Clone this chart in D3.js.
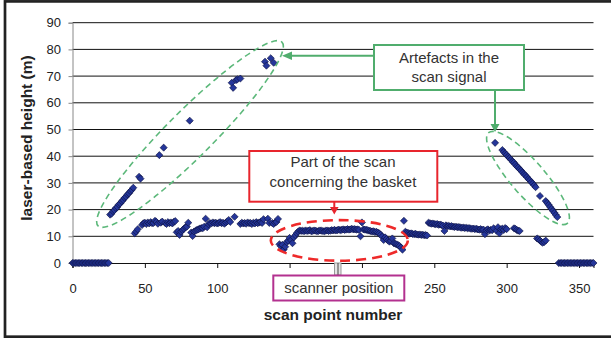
<html>
    <head>
        <style>
            body { margin: 0; background: white; }
            text { font-family: "Liberation Sans", Arial, sans-serif; }
        </style>
    </head>
    <body>
        <svg id="chart" width="611" height="338"></svg>

        <script src="https://d3js.org/d3.v7.min.js"></script>
        <script>
            // tick values (150 and 200 are hidden behind the scanner box in the original)
            var xTicks = [0, 50, 100, 150, 200, 250, 300, 350];
            var xHiddenLabels = [150, 200];
            var yTicks = [0, 10, 20, 30, 40, 50, 60, 70, 80, 90];

            // scan data: [scan point number, laser-based height (m)]
            var groundLeft = [[0,0],[1,0],[2,0],[3,0],[4,0],[5,0],[6,0],[7,0],[8,0],[9,0],[10,0],[11,0],[12,0],
                [13,0],[14,0],[15,0],[16,0],[17,0],[18,0],[19,0],[20,0],[21,0],[22,0],[23,0],[24,0],[25,0]];

            var artefactLeft = [[26,18.1],[27,18.5],[28,19.4],[29,19.8],[30,20.6],[31,21.0],[32,21.9],[33,22.3],
                [34,23.1],[35,23.6],[36,24.4],[37,24.8],[38,25.7],[39,26.1],[40,26.9],[41,27.4],[42,28.2],
                [46,32.3],[47,31.6],[60,40.4],[63,43.2],[81,53.3],[110,67.5],[111,65.6],[113,68.5],[114,68.8],
                [116,69.1],[133,75.4],[134,73.9],[137,76.7],[139,75.0]];

            var objectsLeft = [[43,11.1],[44,11.8],[45,12.6],[48,14.2],[49,14.9],[50,15.1],[51,14.6],[52,15.2],
                [53,14.8],[54,15.3],[55,14.9],[56,15.0],[57,15.8],[58,15.4],[59,14.7],[61,15.1],[62,15.5],
                [64,15.0],[65,14.6],[66,15.3],[67,14.9],[68,15.2],[69,14.8],[70,15.4],[71,15.7],[72,11.5],
                [73,12.0],[74,10.5],[75,11.7],[76,12.3],[77,12.8],[78,13.4],[79,13.6],[80,15.1],[82,11.4],
                [83,10.1],[84,11.8],[85,12.1],[86,12.4],[87,12.6],[88,12.9],[89,13.1],[90,13.0],[91,13.6],
                [92,16.6],[93,13.4],[94,14.5],[95,15.0],[96,14.8],[97,15.2],[98,14.9],[99,15.1],[100,14.8],
                [101,15.0],[102,15.3],[103,14.9],[104,15.1],[105,14.7],[106,15.2],[107,15.6],[108,16.1],
                [109,15.4],[112,17.3],[116,14.6],[117,15.1],[118,14.8],[119,15.0],[120,14.7],[121,15.2],
                [122,14.9],[123,15.0],[124,14.6],[125,15.1],[126,14.8],[127,15.3],[128,14.9],[129,15.2],
                [130,15.4],[131,15.0],[132,16.4],[135,16.6],[136,15.0],[138,15.0],[139,14.6],[140,15.2],
                [141,15.4],[142,16.5]];

            var basket = [[143,7.0],[144,6.3],[145,6.8],[146,5.1],[147,6.1],[148,7.8],[149,8.3],[150,9.4],
                [151,8.6],[152,7.4],[153,9.6],[154,10.4],[155,11.2],[156,11.8],[157,12.2],[158,12.0],[159,12.1],
                [160,11.9],[161,12.2],[162,12.0],[163,12.1],[164,12.3],[165,11.9],[166,12.0],[167,12.2],
                [168,12.1],[169,11.9],[170,12.0],[171,12.2],[172,12.1],[173,12.0],[174,11.9],[175,12.1],
                [176,12.2],[177,12.0],[178,12.1],[179,12.3],[180,12.2],[181,12.4],[182,12.2],[183,12.3],
                [184,12.5],[185,12.3],[186,12.4],[187,12.6],[188,12.4],[189,12.5],[190,12.7],[191,12.5],
                [192,12.6],[193,12.8],[194,12.6],[195,12.7],[196,12.5],[197,12.6],[198,12.4],[199,10.0],
                [200,15.2],[201,12.6],[202,12.5],[203,12.4],[204,12.3],[205,12.1],[206,12.0],[207,11.8],
                [208,11.9],[209,11.6],[210,11.7],[211,11.4],[212,11.1],[213,10.6],[214,9.9],[215,8.6],
                [216,9.6],[217,9.0],[218,8.4],[219,8.0],[220,8.3],[221,9.2],[222,7.4],[223,7.2],[224,7.0],
                [225,6.7],[226,6.4],[227,5.8],[228,5.0]];

            var objectsRight = [[229,15.8],[230,11.7],[231,11.4],[232,11.2],[233,11.0],[234,11.1],[235,10.9],
                [236,10.8],[237,10.9],[238,10.7],[239,10.6],[240,10.7],[241,10.5],[242,10.6],[243,10.4],
                [244,10.5],[245,10.3],[246,15.1],[247,14.9],[248,14.7],[249,14.8],[250,14.6],[251,14.5],
                [252,14.6],[253,14.3],[254,14.4],[255,14.2],[256,14.0],[257,12.0],[258,14.1],[259,13.8],
                [260,13.9],[261,13.7],[262,13.8],[263,13.6],[264,13.5],[265,13.6],[266,13.4],[267,13.5],
                [268,13.3],[269,13.2],[270,13.3],[271,13.1],[272,13.2],[273,13.0],[274,13.1],[275,12.9],
                [276,12.8],[277,12.9],[278,12.7],[279,12.8],[280,12.6],[281,12.5],[282,12.7],[283,12.4],
                [284,12.5],[285,10.8],[286,12.3],[287,12.6],[288,12.2],[289,12.4],[290,12.3],[291,13.0],
                [293,12.1],[294,13.4],[295,11.1],[296,12.6],[297,12.9],[298,12.4],[299,13.1],[300,12.7],
                [305,13.0],[306,12.8],[307,12.4],[308,12.1],[309,12.0],[321,9.2],[322,8.9],[323,8.4],
                [324,7.9],[325,7.6],[326,7.9],[327,8.4]];

            var artefactRight = [[292,45.0],[297,42.3],[298,41.6],[299,41.0],[300,40.5],[301,39.8],[302,39.3],
                [303,38.7],[304,38.0],[305,37.6],[306,36.9],[307,36.2],[308,35.8],[309,35.1],[310,34.6],
                [311,33.9],[312,33.3],[313,32.8],[314,32.2],[315,31.5],[316,31.0],[317,30.3],[318,29.8],
                [319,29.1],[320,28.4],[323,25.1],[327,23.2],[328,22.5],[329,21.8],[330,21.0],[331,20.3],
                [332,19.5],[333,18.8],[334,18.0],[335,17.2]];

            var groundRight = [[336,0],[337,0],[338,0],[339,0],[340,0],[341,0],[342,0],[343,0],[344,0],[345,0],
                [346,0],[347,0],[348,0],[349,0],[350,0],[351,0],[352,0],[353,0],[354,0],[355,0],[356,0],
                [357,0],[358,0],[359,0],[360,0]];

            var allPoints = [].concat(groundLeft, artefactLeft, objectsLeft, basket,
                                      objectsRight, artefactRight, groundRight);

            var svg = d3.select("#chart");

            var x = d3.scaleLinear().domain([0, 360]).range([72.5, 593.5]);
            var y = d3.scaleLinear().domain([0, 90]).range([263, 22.7]);

            // outer frame
            svg.append("rect")
                .attr("x", 5).attr("y", 1.4)
                .attr("width", 640).attr("height", 335.3)
                .attr("fill", "none")
                .attr("stroke", "#222")
                .attr("stroke-width", 2.7);

            // gridlines
            svg.append("g")
                .selectAll("line")
                .data(yTicks.filter(function(d){ return d > 0; }))
                .enter()
                .append("line")
                .attr("x1", x(0)).attr("x2", x(360))
                .attr("y1", function(d){ return y(d); })
                .attr("y2", function(d){ return y(d); })
                .attr("stroke", "#111")
                .attr("stroke-width", 1);

            // y axis
            var yAxis = svg.append("g")
                .attr("transform", "translate(" + x(0) + ",0)")
                .call(d3.axisLeft(y).tickValues(yTicks).tickSize(4).tickPadding(7.5));
            yAxis.select(".domain").attr("stroke", "#888");
            yAxis.selectAll(".tick line").attr("stroke", "#888");
            yAxis.selectAll("text")
                .attr("font-size", 13).attr("fill", "#222")
                .style("font-family", "'Liberation Sans', Arial, sans-serif");

            // x axis
            var xAxis = svg.append("g")
                .attr("transform", "translate(0," + y(0) + ")")
                .call(d3.axisBottom(x).tickValues(xTicks).tickSize(5).tickPadding(16)
                    .tickFormat(function(d){ return xHiddenLabels.indexOf(d) >= 0 ? "" : d; }));
            xAxis.select(".domain").attr("stroke", "#111");
            xAxis.selectAll(".tick line").attr("stroke", "#111");
            xAxis.selectAll("text")
                .attr("font-size", 13).attr("fill", "#222")
                .style("font-family", "'Liberation Sans', Arial, sans-serif");

            // axis titles
            svg.append("text")
                .attr("x", 333).attr("y", 320)
                .attr("text-anchor", "middle")
                .attr("font-size", 15.5).attr("font-weight", "bold").attr("fill", "#222")
                .text("scan point number");

            svg.append("text")
                .attr("transform", "translate(32,138) rotate(-90)")
                .attr("text-anchor", "middle")
                .attr("font-size", 15.5).attr("font-weight", "bold").attr("fill", "#222")
                .text("laser-based height (m)");

            // scan points
            var diamond = d3.symbol().type(d3.symbolSquare).size(25);
            svg.append("g")
                .selectAll("path")
                .data(allPoints)
                .enter()
                .append("path")
                .attr("d", diamond)
                .attr("transform", function(d){
                    return "translate(" + x(d[0]) + "," + y(d[1]) + ") rotate(45)";
                })
                .attr("fill", "#25369a")
                .attr("stroke", "#0b1040")
                .attr("stroke-width", 0.6);

            // annotations
            var green = "#50ad6d";
            var red = "#e8252d";
            var magenta = "#b3318f";

            svg.append("ellipse")
                .attr("transform", "translate(190,134) rotate(-45)")
                .attr("rx", 130).attr("ry", 23)
                .attr("fill", "none").attr("stroke", "#5cb87a")
                .attr("stroke-width", 1.6).attr("stroke-dasharray", "6,4");

            svg.append("ellipse")
                .attr("transform", "translate(528,178) rotate(49)")
                .attr("rx", 60).attr("ry", 17)
                .attr("fill", "none").attr("stroke", "#5cb87a")
                .attr("stroke-width", 1.6).attr("stroke-dasharray", "6,4");

            svg.append("ellipse")
                .attr("cx", 339.3).attr("cy", 240.4)
                .attr("rx", 68.5).attr("ry", 20.3)
                .attr("fill", "none").attr("stroke", "#ee2a2a")
                .attr("stroke-width", 2.6).attr("stroke-dasharray", "10,6");

            // green box + arrows
            svg.append("line")
                .attr("x1", 374).attr("y1", 55.7).attr("x2", 290).attr("y2", 55.7)
                .attr("stroke", green).attr("stroke-width", 2);
            svg.append("path")
                .attr("d", "M282,55.7 L292,51.5 L292,59.9 Z")
                .attr("fill", green);
            svg.append("line")
                .attr("x1", 495).attr("y1", 90).attr("x2", 495).attr("y2", 125)
                .attr("stroke", green).attr("stroke-width", 2);
            svg.append("path")
                .attr("d", "M495,132 L490.5,124 L499.5,124 Z")
                .attr("fill", green);
            svg.append("rect")
                .attr("x", 374).attr("y", 45).attr("width", 150).attr("height", 45)
                .attr("fill", "white").attr("stroke", green).attr("stroke-width", 2);
            svg.append("text")
                .attr("x", 449).attr("y", 62.5).attr("text-anchor", "middle")
                .attr("font-size", 15).attr("fill", "#333")
                .text("Artefacts in the");
            svg.append("text")
                .attr("x", 449).attr("y", 82).attr("text-anchor", "middle")
                .attr("font-size", 15).attr("fill", "#333")
                .text("scan signal");

            // red box + arrow
            svg.append("line")
                .attr("x1", 334.3).attr("y1", 202).attr("x2", 334.3).attr("y2", 208)
                .attr("stroke", red).attr("stroke-width", 2);
            svg.append("path")
                .attr("d", "M334.3,214.5 L330,207 L338.6,207 Z")
                .attr("fill", red);
            svg.append("rect")
                .attr("x", 249.3).attr("y", 151).attr("width", 188).attr("height", 50.7)
                .attr("fill", "white").attr("stroke", red).attr("stroke-width", 2);
            svg.append("text")
                .attr("x", 343).attr("y", 167).attr("text-anchor", "middle")
                .attr("font-size", 15).attr("fill", "#333")
                .text("Part of the scan");
            svg.append("text")
                .attr("x", 343).attr("y", 187).attr("text-anchor", "middle")
                .attr("font-size", 15).attr("fill", "#333")
                .text("concerning the basket");

            // scanner position marker + box
            svg.append("rect")
                .attr("x", 334.5).attr("y", y(0)).attr("width", 6.5).attr("height", 12)
                .attr("fill", "#e4e4e4").attr("stroke", "#999").attr("stroke-width", 1);
            svg.append("line")
                .attr("x1", 338).attr("x2", 338).attr("y1", y(0)).attr("y2", y(0) + 12)
                .attr("stroke", "#444").attr("stroke-width", 1);
            svg.append("rect")
                .attr("x", 273.3).attr("y", 275.5).attr("width", 131).attr("height", 25)
                .attr("fill", "white").attr("stroke", magenta).attr("stroke-width", 2);
            svg.append("text")
                .attr("x", 338.8).attr("y", 292.5).attr("text-anchor", "middle")
                .attr("font-size", 15).attr("fill", "#333")
                .text("scanner position");
        </script>
    </body>
</html>
